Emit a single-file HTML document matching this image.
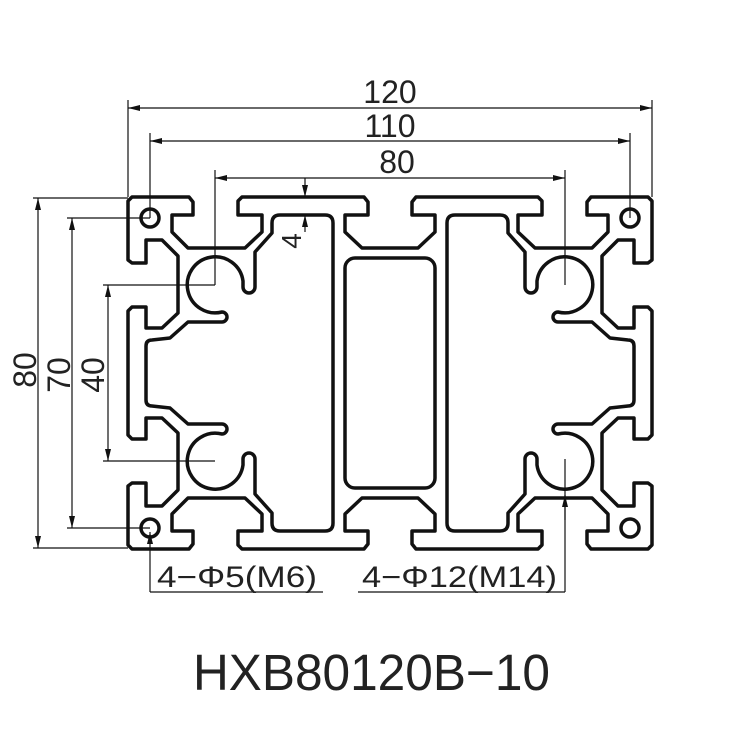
<!DOCTYPE html>
<html><head><meta charset="utf-8"><style>
html,body{margin:0;padding:0;background:#fff;}
svg{display:block;}
text{font-family:"Liberation Sans",sans-serif;fill:#222;}
</style></head><body>
<svg width="750" height="750" viewBox="0 0 750 750" xmlns="http://www.w3.org/2000/svg">
<defs>
<marker id="a" viewBox="0 0 12 6" refX="12" refY="3" markerWidth="12" markerHeight="6" markerUnits="userSpaceOnUse" orient="auto-start-reverse">
<path d="M0,0 L12,3 L0,6 Z" fill="#111"/>
</marker>
<g id="q">
<path d="M390,248 L362,248 L345,232 L345,215 L368,215 L368,202 L364,197 L242,197 L238,201 L238,215 L262,215 L262,232 L245,248 L188,248 L172,232 L172,215 L193,215 L193,202 L189,197 L132,197 L128,201 L128,260 L132,263 L146,263 L146,240 L162,240 L178,256 L178,313 L162,328 L146,328 L146,307 L132,307 L128,311 L128,373"/>
<path d="M333,373 L333,223 Q333,215 325,215 L280,215 Q272,215 272,223 L272,233 L255,252 L255,287 A6,6 0 0 1 243,287 L243,281 A28,28 0 1 0 222,312 A5,5 0 0 1 222,322 L188,322 L170,338 L152,340 Q146,340 146,346 L146,373"/>
<circle cx="150" cy="218" r="9"/>
</g>
</defs>
<g fill="none" stroke="#111" stroke-width="3.5" stroke-linejoin="round">
<use href="#q"/>
<use href="#q" transform="translate(780,0) scale(-1,1)"/>
<use href="#q" transform="translate(0,746) scale(1,-1)"/>
<use href="#q" transform="translate(780,746) scale(-1,-1)"/>
<rect x="345" y="258" width="90" height="230" rx="10"/>
</g>
<g stroke="#111" stroke-width="1.2" fill="none">
<line x1="128" y1="100" x2="128" y2="197"/>
<line x1="652" y1="100" x2="652" y2="197"/>
<line x1="128" y1="108" x2="652" y2="108" marker-start="url(#a)" marker-end="url(#a)"/>
<line x1="150" y1="133" x2="150" y2="218"/>
<line x1="630" y1="133" x2="630" y2="218"/>
<line x1="150" y1="141" x2="630" y2="141" marker-start="url(#a)" marker-end="url(#a)"/>
<line x1="215" y1="170" x2="215" y2="285"/>
<line x1="565" y1="170" x2="565" y2="285"/>
<line x1="215" y1="178" x2="565" y2="178" marker-start="url(#a)" marker-end="url(#a)"/>
<line x1="305" y1="178" x2="305" y2="197" marker-end="url(#a)"/>
<line x1="305" y1="232" x2="305" y2="215" marker-end="url(#a)"/>
<line x1="33" y1="198" x2="128" y2="198"/>
<line x1="33" y1="548" x2="128" y2="548"/>
<line x1="38" y1="198" x2="38" y2="548" marker-start="url(#a)" marker-end="url(#a)"/>
<line x1="67" y1="218" x2="150" y2="218"/>
<line x1="67" y1="528" x2="150" y2="528"/>
<line x1="72" y1="218" x2="72" y2="528" marker-start="url(#a)" marker-end="url(#a)"/>
<line x1="103" y1="285" x2="215" y2="285"/>
<line x1="103" y1="461" x2="215" y2="461"/>
<line x1="108" y1="285" x2="108" y2="461" marker-start="url(#a)" marker-end="url(#a)"/>
<line x1="150" y1="592" x2="150" y2="532" marker-end="url(#a)"/>
<line x1="150" y1="592" x2="323" y2="592"/>
<line x1="565" y1="592" x2="565" y2="459"/>
<line x1="565" y1="520" x2="565" y2="495" marker-end="url(#a)"/>
<line x1="358" y1="592" x2="565" y2="592"/>
</g>
<g font-size="32">
<text x="390" y="103" text-anchor="middle">120</text>
<text x="390" y="137" text-anchor="middle">110</text>
<text x="397" y="173" text-anchor="middle">80</text>
<text transform="translate(36,370) rotate(-90)" text-anchor="middle">80</text>
<text transform="translate(70,375) rotate(-90)" text-anchor="middle">70</text>
<text transform="translate(104,375) rotate(-90)" text-anchor="middle">40</text>
<text x="157" y="587" font-size="30" textLength="160" lengthAdjust="spacingAndGlyphs">4−Φ5(M6)</text>
<text x="362" y="587" font-size="30" textLength="195" lengthAdjust="spacingAndGlyphs">4−Φ12(M14)</text>
<text x="193" y="690" font-size="51" textLength="357" lengthAdjust="spacingAndGlyphs">HXB80120B−10</text>
</g>
<text transform="translate(301,241) rotate(-90)" text-anchor="middle" font-size="28">4</text>
</svg>
</body></html>
